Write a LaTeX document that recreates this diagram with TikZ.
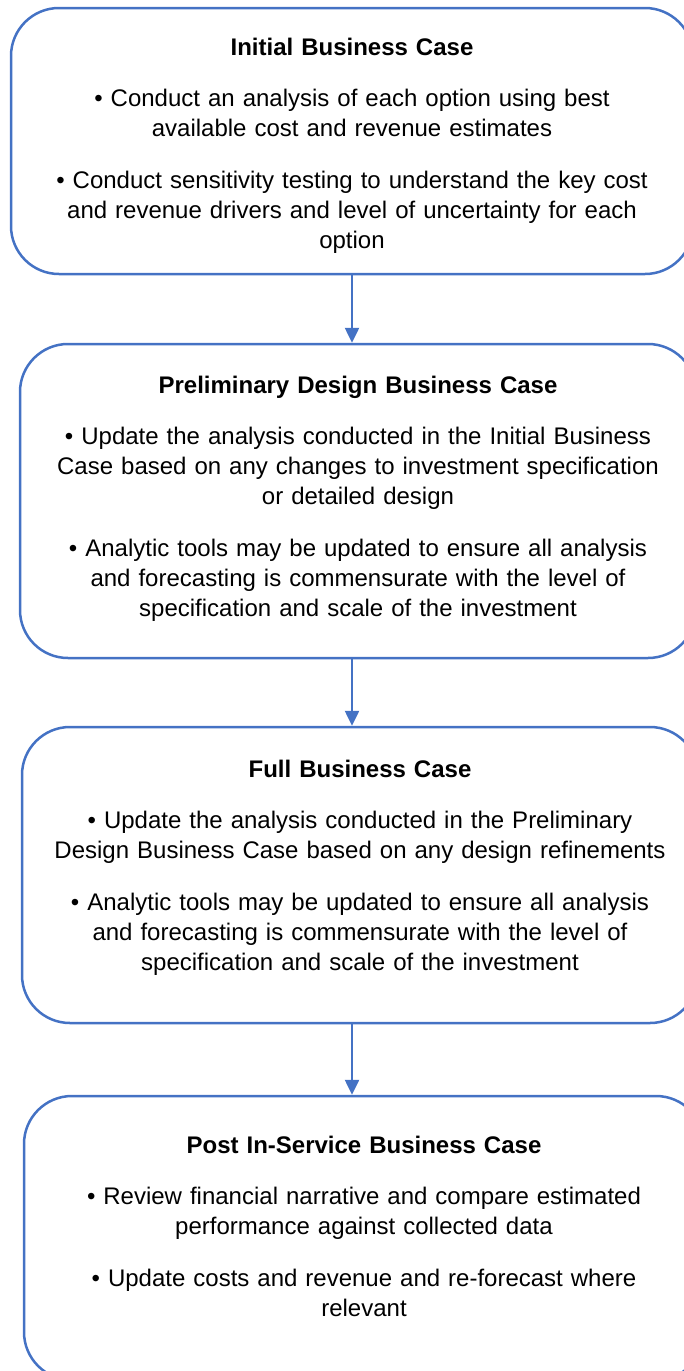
\documentclass[tikz,border=0pt]{standalone}
\usepackage{fontspec}
\setmainfont{Liberation Sans}
\usetikzlibrary{arrows.meta, positioning}
\definecolor{boxblue}{HTML}{4472C4}

\begin{document}
\begin{tikzpicture}[x=1pt, y=-1pt,
  stagebox/.style={draw=boxblue, line width=2.5pt, rounded corners=48pt, inner sep=0pt},
  stagetext/.style={anchor=base, text width=660pt, align=center, font=\fontsize{24pt}{30pt}\selectfont},
  flow/.style={draw=boxblue, line width=2.5pt, -{Triangle[width=14pt,length=15pt]}}]
\useasboundingbox (0,0) rectangle (684,1371);
\clip (0,0) rectangle (684,1371);

% Initial Business Case
\node[stagebox, minimum width=682pt, minimum height=266pt] (ini) at (352,141) {};
\node[stagetext] (iniText) at (352,55) {\textbf{Initial Business Case}\par\vspace{21pt}
• Conduct an analysis of each option using best\\ available cost and revenue estimates\par\vspace{22pt}
• Conduct sensitivity testing to understand the key cost\\ and revenue drivers and level of uncertainty for each\\ option};

% Preliminary Design Business Case
\node[stagebox, minimum width=676pt, minimum height=314pt] (pre) at (358,501) {};
\node[stagetext] (preText) at (358,393.5) {\textbf{Preliminary Design Business Case}\par\vspace{21pt}
• Update the analysis conducted in the Initial Business\\ Case based on any changes to investment specification\\ or detailed design\par\vspace{22pt}
• Analytic tools may be updated to ensure all analysis\\ and forecasting is commensurate with the level of\\ specification and scale of the investment};

% Full Business Case
\node[stagebox, minimum width=676pt, minimum height=296pt] (ful) at (360,875) {};
\node[stagetext] (fulText) at (360,777.5) {\textbf{Full Business Case}\par\vspace{21pt}
• Update the analysis conducted in the Preliminary\\ Design Business Case based on any design refinements\par\vspace{22pt}
• Analytic tools may be updated to ensure all analysis\\ and forecasting is commensurate with the level of\\ specification and scale of the investment};

% Post In-Service Business Case
\node[stagebox, minimum width=680pt, minimum height=284pt] (pst) at (364,1238) {};
\node[stagetext] (pstText) at (364,1153.5) {\textbf{Post In-Service Business Case}\par\vspace{21pt}
• Review financial narrative and compare estimated\\ performance against collected data\par\vspace{22pt}
• Update costs and revenue and re-forecast where\\ relevant};

% Arrows
\draw[flow] (ini.south) -- (ini.south |- pre.north);
\draw[flow] (pre.south -| ini.south) -- (ini.south |- ful.north);
\draw[flow] (ful.south -| ini.south) -- (ini.south |- pst.north);
\end{tikzpicture}
\end{document}
